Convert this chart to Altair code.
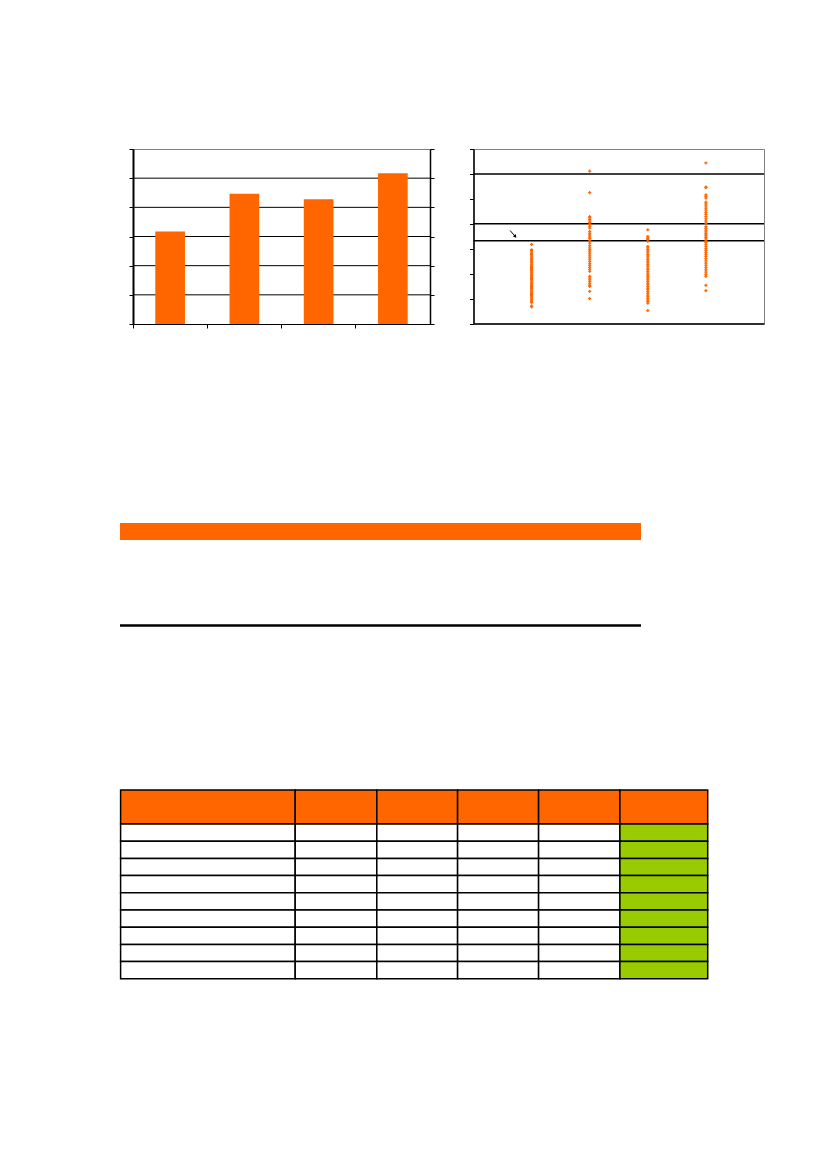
import altair as alt
import pandas as pd

# ---------------- data ----------------
# left bar chart
bar_categories = ["1", "2", "3", "4"]
bar_values = [3.17, 4.47, 4.28, 5.17]
bar_axis_ticks = [0, 1, 2, 3, 4, 5, 6]
bar_gridlines = [1, 2, 3, 4, 5]

# right scatter chart (four vertical strips)
scatter_groups = [1, 2, 3, 4]
strip_1 = [3.17, 2.96, 2.92, 2.87, 2.81, 2.76, 2.71, 2.66, 2.62, 2.57, 2.51, 2.47,
           2.43, 2.38, 2.34, 2.29, 2.25, 2.2, 2.16, 2.12, 2.07, 2.03, 1.98, 1.94,
           1.9, 1.85, 1.8, 1.76, 1.71, 1.66, 1.62, 1.58, 1.53, 1.49, 1.44, 1.4,
           1.35, 1.3, 1.26, 1.21, 1.17, 1.12, 1.07, 1.03, 0.98, 0.94, 0.89, 0.84,
           0.71, 0.67]
strip_2 = [6.11, 5.25, 4.29, 4.24, 4.18, 4.12, 4.05, 3.98, 3.9, 3.83, 3.69, 3.62,
           3.55, 3.47, 3.4, 3.31, 3.22, 3.12, 3.03, 2.96, 2.9, 2.82, 2.74, 2.66,
           2.58, 2.49, 2.4, 2.33, 2.25, 2.17, 2.09, 1.89, 1.82, 1.75, 1.68, 1.6,
           1.53, 1.49, 1.29, 1.0]
strip_3 = [3.76, 3.49, 3.42, 3.36, 3.29, 3.09, 3.03, 2.96, 2.9, 2.83, 2.76, 2.7,
           2.63, 2.56, 2.49, 2.43, 2.36, 2.3, 2.22, 2.16, 2.09, 2.02, 1.95, 1.89,
           1.82, 1.75, 1.68, 1.61, 1.55, 1.48, 1.41, 1.35, 1.28, 1.21, 1.14, 1.08,
           1.01, 0.94, 0.88, 0.82, 0.52]
strip_4 = [6.44, 5.47, 5.45, 5.16, 5.1, 5.03, 4.87, 4.8, 4.72, 4.63, 4.55, 4.46,
           4.38, 4.29, 4.2, 4.11, 4.03, 3.89, 3.82, 3.75, 3.68, 3.61, 3.54, 3.46,
           3.39, 3.31, 3.24, 3.16, 3.08, 3.0, 2.93, 2.85, 2.77, 2.69, 2.6, 2.51,
           2.42, 2.33, 2.24, 2.15, 2.06, 1.97, 1.89, 1.53, 1.32]
scatter_axis_ticks = [0, 1, 2, 3, 4, 5, 6, 7]
scatter_ref_lines = [6, 4, 3.32]
arrow_x = [0.63, 0.72]
arrow_y = [3.73, 3.49]

# document block (empty table)
table_columns = ["c1", "c2", "c3", "c4", "c5", "c6"]
table_rows = ["header", "r1", "r2", "r3", "r4", "r5", "r6", "r7", "r8", "r9"]

# ---------------- layout / style ----------------
ORANGE = "#FF6600"
GREEN = "#99CC00"
GRAY = "#808080"
BAR_W, BAR_H = 297, 175
SC_W, SC_H = 290.5, 174.5
GAP = 43.5
INDENT = 13
ROW_GAP = 199
DOC_W, DOC_H = 588, 456
BAND_BOX = (0, 521, 0, 17)
RULE_Y = 102.5
TABLE_TOP = 267
HEADER_H = 34
ROW_H = 17.2
TABLE_LEFT = 0.6
COL_WIDTHS = [174.6, 81.6, 80.8, 81.0, 81.3, 87.8]

# ---------------- bar chart ----------------
bar_df = pd.DataFrame({"cat": bar_categories, "value": bar_values})
grid_df = pd.DataFrame({"g": bar_gridlines})
bar_y = alt.Scale(domain=[0, 6], nice=False)

grid = alt.Chart(grid_df).mark_rule(color="black", strokeWidth=1).encode(
    y=alt.Y("g:Q", scale=bar_y,
            axis=alt.Axis(orient="right", values=bar_axis_ticks, labels=False, title=None,
                          grid=False, domainColor="black", domainWidth=1.5,
                          tickColor="black", tickSize=4, tickWidth=1))
)
bars = alt.Chart(bar_df).mark_bar(color=ORANGE).encode(
    x=alt.X("cat:N", sort=bar_categories,
            scale=alt.Scale(paddingInner=0.6, paddingOuter=0.3),
            axis=alt.Axis(labels=False, title=None, domainColor="black", domainWidth=1,
                          tickColor="black", tickSize=4, bandPosition=-0.75)),
    y=alt.Y("value:Q", scale=bar_y,
            axis=alt.Axis(orient="left", values=bar_axis_ticks, labels=False, title=None,
                          grid=False, domainColor="black", domainWidth=2,
                          tickColor="black", tickSize=4, tickWidth=1))
)
bar_chart = alt.layer(grid, bars).resolve_axis(y="independent").properties(
    width=BAR_W, height=BAR_H, view=alt.ViewBackground(stroke=GRAY)
)

# ---------------- scatter chart ----------------
sc_x, sc_y = [], []
for g, strip in zip(scatter_groups, [strip_1, strip_2, strip_3, strip_4]):
    sc_x += [g] * len(strip)
    sc_y += strip
sc_df = pd.DataFrame({"group": sc_x, "y": sc_y})
ref_df = pd.DataFrame({"r": scatter_ref_lines})
arrow_df = pd.DataFrame({"ax": arrow_x, "ay": arrow_y})
head_df = arrow_df.tail(1)

xs = alt.Scale(domain=[0, 5], nice=False)
ys = alt.Scale(domain=[0, 7], nice=False)
x_axis = alt.Axis(labels=False, ticks=False, title=None, grid=False,
                  domainColor="black", domainWidth=1.5)
y_axis = alt.Axis(values=scatter_axis_ticks, labels=False, title=None, grid=False,
                  domainColor="black", domainWidth=1.5, tickColor="black",
                  tickSize=4, tickWidth=1)

refs = alt.Chart(ref_df).mark_rule(color="black", strokeWidth=1.5).encode(
    y=alt.Y("r:Q", scale=ys, axis=y_axis)
)
pts = alt.Chart(sc_df).mark_point(shape="cross", filled=True, size=10, color=ORANGE,
                                  opacity=1).encode(
    x=alt.X("group:Q", scale=xs, axis=x_axis),
    y=alt.Y("y:Q", scale=ys, axis=y_axis),
)
arrow = alt.Chart(arrow_df).mark_line(color="black", strokeWidth=1).encode(
    x=alt.X("ax:Q", scale=xs, axis=x_axis),
    y=alt.Y("ay:Q", scale=ys, axis=y_axis),
)
head = alt.Chart(head_df).mark_point(shape="triangle-up", filled=True, size=14,
                                     color="black", angle=140, opacity=1).encode(
    x=alt.X("ax:Q", scale=xs, axis=x_axis),
    y=alt.Y("ay:Q", scale=ys, axis=y_axis),
)
scatter_chart = alt.layer(refs, pts, arrow, head).properties(
    width=SC_W, height=SC_H, view=alt.ViewBackground(stroke=GRAY)
)

# ---------------- document block ----------------
doc_x = alt.Scale(domain=[0, DOC_W], nice=False, zero=False)
doc_y = alt.Scale(domain=[0, DOC_H], nice=False, zero=False, reverse=True)

band_df = pd.DataFrame({"x0": [BAND_BOX[0]], "x1": [BAND_BOX[1]],
                        "y0": [BAND_BOX[2]], "y1": [BAND_BOX[3]]})
band = alt.Chart(band_df).mark_rect(color=ORANGE).encode(
    x=alt.X("x0:Q", scale=doc_x, axis=None), x2="x1:Q",
    y=alt.Y("y0:Q", scale=doc_y, axis=None), y2="y1:Q",
)
rule_df = pd.DataFrame({"x0": [BAND_BOX[0]], "x1": [BAND_BOX[1]], "y": [RULE_Y]})
hline = alt.Chart(rule_df).mark_rule(color="black", strokeWidth=2.5).encode(
    x=alt.X("x0:Q", scale=doc_x, axis=None), x2="x1:Q",
    y=alt.Y("y:Q", scale=doc_y, axis=None),
)

edges = [TABLE_LEFT]
for w in COL_WIDTHS:
    edges.append(edges[-1] + w)
cells = []
for ri, row_name in enumerate(table_rows):
    if ri == 0:
        y0, y1 = TABLE_TOP, TABLE_TOP + HEADER_H
    else:
        y0 = TABLE_TOP + HEADER_H + (ri - 1) * ROW_H
        y1 = y0 + ROW_H
    for ci, col in enumerate(table_columns):
        if ri == 0:
            fill = ORANGE
        elif ci == len(table_columns) - 1:
            fill = GREEN
        else:
            fill = "white"
        cells.append({"row": row_name, "col": col, "x0": edges[ci], "x1": edges[ci + 1],
                      "y0": y0, "y1": y1, "fill": fill})
cells_df = pd.DataFrame(cells)
table = alt.Chart(cells_df).mark_rect(stroke="black", strokeWidth=1.5).encode(
    x=alt.X("x0:Q", scale=doc_x, axis=None), x2="x1:Q",
    y=alt.Y("y0:Q", scale=doc_y, axis=None), y2="y1:Q",
    color=alt.Color("fill:N", scale=None),
)
doc = alt.layer(band, hline, table).properties(width=DOC_W, height=DOC_H)

# ---------------- page layout ----------------
spacer = alt.Chart(pd.DataFrame({"s": [0]})).mark_point(opacity=0).encode(
    x=alt.X("s:Q", axis=None), y=alt.Y("s:Q", axis=None)
).properties(width=INDENT, height=10)

inner = alt.hconcat(bar_chart, scatter_chart, spacing=GAP, bounds="flush")
row = alt.hconcat(spacer, inner, spacing=0, bounds="flush")
# the nested row group counts as zero height in the flush layout, so add it here
chart = alt.vconcat(row, doc, spacing=ROW_GAP + BAR_H, bounds="flush").properties(
    padding={"left": 110, "top": 140, "right": 0, "bottom": 0},
    background="white",
).configure_view(stroke="transparent")

chart.save("out.html", embed_options={"renderer": "svg", "actions": False})
